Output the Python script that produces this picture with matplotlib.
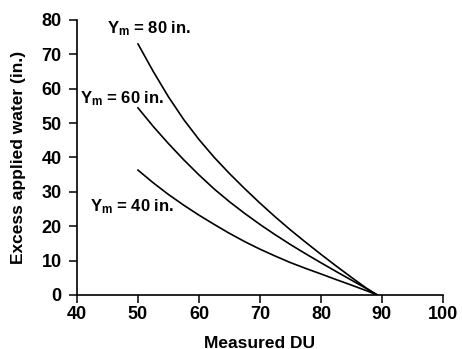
import numpy as np
import matplotlib.pyplot as plt

plt.rcParams['font.family'] = 'Liberation Sans'
plt.rcParams['font.weight'] = 'bold'
plt.rcParams['mathtext.fontset'] = 'custom'
plt.rcParams['mathtext.rm'] = 'Liberation Sans:bold'
plt.rcParams['mathtext.it'] = 'Liberation Sans:bold'
plt.rcParams['mathtext.bf'] = 'Liberation Sans:bold'

# measured DU values along the curves
du = [50, 52.5, 55, 57.5, 60, 62.5, 65, 67.5, 70, 72.5, 75, 77.5, 80, 82.5, 85, 87.5, 89.2]

# excess applied water (in.) for each Ym
ym80 = [73.0, 65.0, 57.6, 51.0, 45.2, 40.0, 35.3, 30.9, 26.7, 22.7, 18.9, 15.3, 11.8, 8.4, 5.1, 1.9, 0]
ym60 = [54.4, 49.0, 44.0, 39.3, 34.9, 30.8, 27.1, 23.7, 20.5, 17.5, 14.65, 11.95, 9.35, 6.8, 4.3, 1.8, 0]
ym40 = [36.3, 32.6, 29.2, 26.1, 23.2, 20.5, 17.9, 15.5, 13.3, 11.3, 9.4, 7.7, 6.1, 4.45, 2.85, 1.2, 0]

labels = [r"$Y_m$ = 80 in.", r"$Y_m$ = 60 in.", r"$Y_m$ = 40 in."]
label_pos = [(44.9, 77.5), (40.5, 57.2), (42.2, 25.7)]

fig = plt.figure(figsize=(4.62, 3.49), dpi=100)
ax = fig.add_axes([0.1667, 0.155, 0.792, 0.788])

for ys in (ym80, ym60, ym40):
    ax.plot(du, ys, color='black', lw=1.2)

for txt, (x, y) in zip(labels, label_pos):
    ax.text(x, y, txt, fontsize=12, fontweight='bold', ha='left', va='center')

ax.set_xlim(40, 100)
ax.set_ylim(0, 80)
ax.set_xticks(np.arange(40, 101, 10))
ax.set_yticks(np.arange(0, 81, 10))
ax.spines['top'].set_visible(False)
ax.spines['right'].set_visible(False)
ax.spines['left'].set_linewidth(1.2)
ax.spines['bottom'].set_linewidth(1.2)
ax.tick_params(axis='both', direction='out', length=6, width=1.1, labelsize=13)
ax.tick_params(axis='y', pad=5)
ax.tick_params(axis='x', pad=2)
for lab in ax.get_xticklabels() + ax.get_yticklabels():
    lab.set_fontweight('bold')

ax.set_xlabel("Measured DU", fontsize=12.5, fontweight='bold', labelpad=9)
ax.set_ylabel("Excess applied water (in.)", fontsize=12.5, fontweight='bold', labelpad=11)

fig.savefig("out.png", dpi=100)
